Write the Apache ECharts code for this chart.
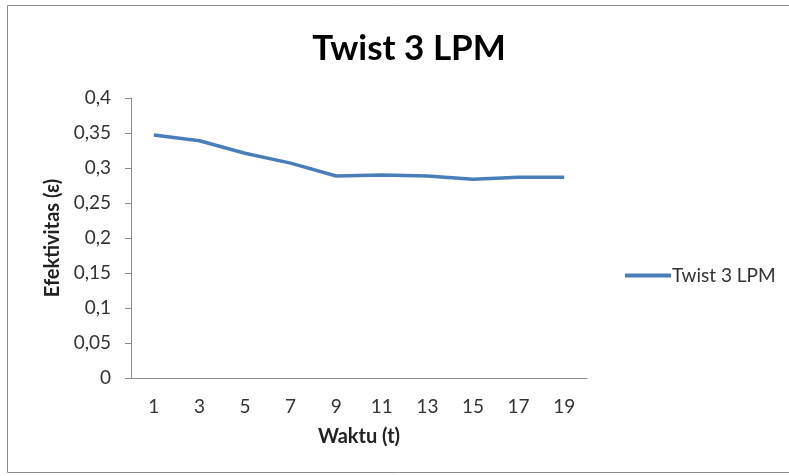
<!DOCTYPE html>
<html>
<head>
<meta charset="utf-8">
<script src="https://cdn.jsdelivr.net/npm/echarts@6/dist/echarts.min.js"></script>
<style>
  html, body { margin: 0; padding: 0; background: #ffffff; }
  #chart { width: 789px; height: 476px; }
</style>
</head>
<body>
<div id="chart"></div>
<script>
// Time steps (t) on the category axis
var waktu = ['1', '3', '5', '7', '9', '11', '13', '15', '17', '19'];
// Effectiveness values for twist 3 LPM
var efektivitas = [0.347, 0.339, 0.321, 0.307, 0.2886, 0.290, 0.2886, 0.2838, 0.2867, 0.2867];
var seriesName = 'Twist 3 LPM';
var yTicks = { min: 0, max: 0.4, interval: 0.05 };

var FONT = 'Lato, "Open Sans", sans-serif';
var chart = echarts.init(document.getElementById('chart'), null, { renderer: 'canvas' });

chart.setOption({
  backgroundColor: '#ffffff',
  animation: false,
  graphic: [{
    type: 'rect',
    shape: { x: 7.5, y: 5.5, width: 800, height: 467 },
    style: { fill: 'none', stroke: '#8c8c8c', lineWidth: 1 },
    silent: true
  }],
  title: {
    text: 'Twist 3 LPM',
    left: 404,
    top: 26,
    textAlign: 'center',
    textStyle: { fontFamily: FONT, fontSize: 35, fontWeight: 'bold', color: '#000000' }
  },
  legend: {
    data: [seriesName],
    left: 620,
    top: 261,
    orient: 'vertical',
    itemWidth: 46,
    itemHeight: 4,
    itemGap: 4,
    icon: 'rect',
    textStyle: { fontFamily: FONT, fontSize: 19, color: '#333333', padding: [0, 0, 0, -4] }
  },
  grid: { left: 131, right: 202, top: 98, bottom: 98 },
  xAxis: {
    type: 'category',
    data: waktu,
    boundaryGap: true,
    name: 'Waktu (t)',
    nameLocation: 'middle',
    nameGap: 49,
    nameTextStyle: { fontFamily: FONT, fontSize: 20, fontWeight: 'bold', color: '#222222' },
    axisLine: { lineStyle: { color: '#8c8c8c', width: 1 } },
    axisTick: { show: false },
    axisLabel: { fontFamily: FONT, fontSize: 19, color: '#333333', margin: 19 }
  },
  yAxis: {
    type: 'value',
    min: yTicks.min,
    max: yTicks.max,
    interval: yTicks.interval,
    name: 'Efektivitas (ε)',
    nameLocation: 'middle',
    nameRotate: 90,
    nameGap: 67,
    nameTextStyle: { fontFamily: FONT, fontSize: 20, fontWeight: 'bold', color: '#222222' },
    axisLine: { show: true, lineStyle: { color: '#8c8c8c', width: 1 } },
    axisTick: { show: true, inside: false, length: 6, lineStyle: { color: '#8c8c8c' } },
    splitLine: { show: false },
    axisLabel: {
      fontFamily: FONT, fontSize: 19, color: '#333333', margin: 20,
      formatter: function (v) { return String(Math.round(v * 100) / 100).replace('.', ','); }
    }
  },
  series: [{
    name: seriesName,
    type: 'line',
    data: efektivitas,
    symbol: 'none',
    smooth: false,
    lineStyle: { color: '#4a7ebb', width: 3.5 },
    itemStyle: { color: '#4a7ebb' }
  }]
});
</script>
</body>
</html>
